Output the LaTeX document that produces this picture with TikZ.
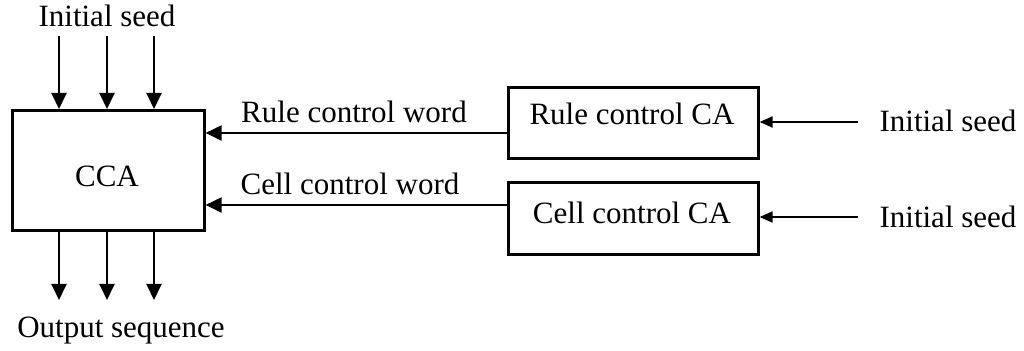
\documentclass[tikz,border=0pt]{standalone}
\usepackage{fontspec}
\setmainfont{Liberation Serif}
\usetikzlibrary{arrows.meta}
\begin{document}
\begin{tikzpicture}[x=0.5pt,y=-0.5pt,
  every node/.style={font=\fontsize{15.5}{18}\selectfont},
  boxnode/.style={draw=black, line width=1.3pt, inner sep=0pt, anchor=north west},
  txt/.style={anchor=base, inner sep=0pt},
  bigarr/.style={line width=1pt, -{Triangle[length=8pt,width=7.5pt]}},
  smallarr/.style={line width=1pt, -{Triangle[length=6.5pt,width=5.5pt]}}]
\useasboundingbox (0,0) rectangle (1024,351);
% boxes
\node[boxnode, minimum width=96pt, minimum height=60pt] (cca) at (11,109) {};
\node[boxnode, minimum width=125pt, minimum height=35.5pt] (rule) at (507,86) {};
\node[boxnode, minimum width=125pt, minimum height=36pt] (cell) at (507,181) {};
% box texts
\node[txt] (ccat) at (107,187) {CCA};
\node[txt] (rulet) at (632,125) {Rule control CA};
\node[txt] (cellt) at (632,224) {Cell control CA};
% top seed
\node[txt] (seedtop) at (107,27) {Initial seed};
\coordinate (t1) at (59,36);
\coordinate (t2) at (107,36);
\coordinate (t3) at (154,36);
\foreach \c in {t1,t2,t3} \draw[bigarr] (\c) -- (\c |- cca.north);
% outputs
\coordinate (b1) at (59,300);
\coordinate (b2) at (107,300);
\coordinate (b3) at (154,300);
\foreach \c in {b1,b2,b3} \draw[bigarr] (cca.south -| \c) -- (\c);
\node[txt] (outp) at (121,338) {Output sequence};
% control words
\coordinate (rw) at (507,133);
\coordinate (cw) at (507,205);
\draw[bigarr] (rule.west |- rw) -- (rw -| cca.east);
\draw[bigarr] (cell.west |- cw) -- (cw -| cca.east);
\node[txt] (rulew) at (354,123) {Rule control word};
\node[txt] (cellw) at (350,195) {Cell control word};
% right seeds
\coordinate (rs) at (858,122);
\coordinate (cs) at (858,217);
\draw[smallarr] (rs) -- (rs -| rule.east);
\draw[smallarr] (cs) -- (cs -| cell.east);
\node[txt] (seedr) at (948,132) {Initial seed};
\node[txt] (seedc) at (948,228) {Initial seed};
\end{tikzpicture}
\end{document}
